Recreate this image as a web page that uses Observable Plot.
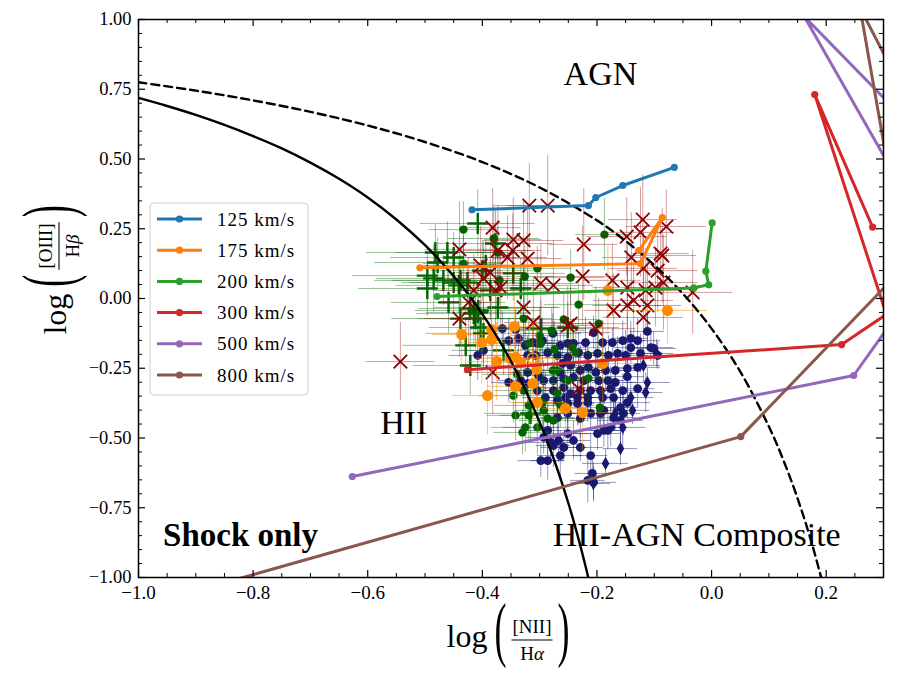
<!DOCTYPE html>
<html><head><meta charset="utf-8">
<script src="https://cdn.jsdelivr.net/npm/d3@7"></script>
<script src="https://cdn.jsdelivr.net/npm/@observablehq/plot@0.6"></script>
<style>body{margin:0;background:#fff}</style>
</head><body><div id="chart"></div>
<script>
const FONT = "'Liberation Serif', 'DejaVu Serif', serif";

// ---- tick values ----
const xMajor = [-1.0, -0.8, -0.6, -0.4, -0.2, 0.0, 0.2];
const xMinor = [-0.95,-0.9,-0.85,-0.75,-0.7,-0.65,-0.55,-0.5,-0.45,-0.35,-0.3,-0.25,-0.15,-0.1,-0.05,0.05,0.1,0.15,0.25];
const yMajor = [-1, -0.75, -0.5, -0.25, 0, 0.25, 0.5, 0.75, 1];
const yMinor = [0.95,0.9,0.85,0.8,0.7,0.65,0.6,0.55,0.45,0.4,0.35,0.3,0.2,0.15,0.1,0.05,
  -0.05,-0.1,-0.15,-0.2,-0.3,-0.35,-0.4,-0.45,-0.55,-0.6,-0.65,-0.7,-0.8,-0.85,-0.9,-0.95];

// ---- demarcation curves ----
const kauffmann = [[-1.0,0.719],[-0.95,0.690],[-0.9,0.658],[-0.85,0.622],[-0.8,0.582],[-0.75,0.538],[-0.7,0.487],[-0.65,0.429],[-0.6,0.362],[-0.55,0.283],[-0.5,0.191],[-0.475,0.138],[-0.45,0.080],[-0.425,0.016],[-0.4,-0.056],[-0.375,-0.135],[-0.35,-0.225],[-0.325,-0.327],[-0.3,-0.443],[-0.275,-0.577],[-0.25,-0.733],[-0.235,-0.840],[-0.22,-0.959],[-0.21,-1.046]];
const kewley = [[-1.0,0.775],[-0.9,0.745],[-0.8,0.710],[-0.7,0.669],[-0.6,0.620],[-0.5,0.561],[-0.4,0.489],[-0.3,0.398],[-0.2,0.280],[-0.15,0.206],[-0.1,0.120],[-0.05,0.017],[0.0,-0.108],[0.05,-0.262],[0.1,-0.459],[0.125,-0.578],[0.15,-0.716],[0.175,-0.878],[0.2,-1.069]];

// ---- shock model grids ----
const shockNames = ["125 km/s","175 km/s","200 km/s","300 km/s","500 km/s","800 km/s"];
const shockColors = ["#1f77b4","#ff7f0e","#2ca02c","#d62728","#9467bd","#8c564b"];
const shock125 = [[-0.418,0.318],[-0.215,0.333],[-0.202,0.362],[-0.155,0.405],[-0.065,0.470]];
const shock175 = [[-0.509,0.110],[-0.124,0.125],[-0.086,0.290],[-0.127,0.172]];
const shock200 = [[-0.479,0.007],[-0.031,0.038],[-0.005,0.049],[-0.010,0.098],[0.001,0.271]];
const shock300 = [[-0.426,-0.255],[0.227,-0.165],[0.305,-0.057],[0.180,0.731],[0.281,0.256]];
const shock500 = [[-0.627,-0.638],[0.248,-0.276],[0.35,0.018],[0.35,0.333],[0.162,1.01],[0.35,0.615]];
const shock800 = [[-0.9,-1.048],[0.051,-0.495],[0.35,0.143],[0.35,-0.025],[0.259,1.042],[0.35,0.68]];
const shockSeries = [shock125, shock175, shock200, shock300, shock500, shock800];

// ---- observed points: [x, y, xerr, yerr] ----
const navyCircles = [
[-0.408,-0.204,0.05,0.09],[-0.398,-0.186,0.04,0.07],[-0.365,-0.108,0.03,0.06],[-0.354,-0.151,0.04,0.08],[-0.342,-0.111,0.03,0.07],
[-0.337,-0.143,0.05,0.06],[-0.325,-0.168,0.03,0.09],[-0.312,-0.158,0.04,0.07],[-0.304,-0.161,0.03,0.05],[-0.295,-0.151,0.04,0.08],
[-0.286,-0.194,0.03,0.06],[-0.277,-0.125,0.05,0.07],[-0.264,-0.168,0.03,0.08],[-0.251,-0.161,0.04,0.06],[-0.241,-0.161,0.03,0.07],
[-0.220,-0.158,0.04,0.09],[-0.206,-0.122,0.03,0.06],[-0.190,-0.158,0.05,0.08],[-0.173,-0.158,0.03,0.05],[-0.155,-0.151,0.04,0.07],
[-0.141,-0.143,0.03,0.06],[-0.129,-0.151,0.04,0.08],[-0.112,-0.118,0.03,0.07],[-0.101,-0.179,0.04,0.06],[-0.094,-0.204,0.03,0.05],
[-0.124,-0.197,0.04,0.07],[-0.141,-0.176,0.03,0.06],[-0.150,-0.204,0.04,0.09],[-0.164,-0.197,0.03,0.06],[-0.180,-0.204,0.04,0.07],
[-0.199,-0.197,0.03,0.08],[-0.216,-0.204,0.05,0.06],[-0.232,-0.194,0.03,0.07],[-0.251,-0.211,0.04,0.05],[-0.269,-0.204,0.03,0.08],
[-0.260,-0.233,0.04,0.06],[-0.246,-0.240,0.03,0.07],[-0.229,-0.258,0.04,0.09],[-0.215,-0.247,0.03,0.06],[-0.202,-0.265,0.04,0.07],
[-0.185,-0.258,0.03,0.08],[-0.168,-0.258,0.04,0.06],[-0.147,-0.251,0.03,0.07],[-0.129,-0.247,0.04,0.05],[-0.147,-0.280,0.03,0.08],
[-0.197,-0.294,0.04,0.06],[-0.181,-0.294,0.03,0.07],[-0.168,-0.301,0.04,0.09],[-0.223,-0.294,0.03,0.06],[-0.241,-0.283,0.04,0.07],
[-0.258,-0.287,0.03,0.08],[-0.276,-0.294,0.04,0.06],[-0.211,-0.330,0.03,0.07],[-0.194,-0.330,0.04,0.05],[-0.176,-0.323,0.03,0.08],
[-0.155,-0.330,0.04,0.06],[-0.129,-0.323,0.03,0.07],[-0.255,-0.355,0.04,0.09],[-0.234,-0.355,0.03,0.06],[-0.216,-0.355,0.04,0.07],
[-0.190,-0.355,0.03,0.08],[-0.171,-0.355,0.04,0.06],[-0.354,-0.301,0.03,0.07],[-0.333,-0.294,0.04,0.05],[-0.321,-0.305,0.03,0.08],
[-0.302,-0.276,0.04,0.06],[-0.293,-0.294,0.03,0.07],[-0.264,-0.265,0.04,0.09],[-0.276,-0.330,0.03,0.06],[-0.258,-0.319,0.04,0.07],
[-0.246,-0.341,0.03,0.08],[-0.229,-0.330,0.04,0.06],[-0.321,-0.204,0.03,0.07],[-0.307,-0.204,0.04,0.05],[-0.321,-0.265,0.03,0.08],
[-0.304,-0.258,0.04,0.06],[-0.304,-0.330,0.03,0.07],[-0.290,-0.355,0.04,0.09],[-0.269,-0.366,0.03,0.06],[-0.251,-0.376,0.04,0.07],
[-0.234,-0.376,0.03,0.08],[-0.211,-0.412,0.04,0.06],[-0.188,-0.401,0.03,0.07],[-0.171,-0.427,0.04,0.05],[-0.154,-0.412,0.03,0.08],
[-0.251,-0.412,0.04,0.06],[-0.269,-0.427,0.03,0.07],[-0.286,-0.473,0.04,0.09],[-0.293,-0.498,0.03,0.06],[-0.281,-0.516,0.04,0.07],
[-0.267,-0.509,0.03,0.08],[-0.251,-0.484,0.04,0.06],[-0.241,-0.509,0.03,0.07],[-0.229,-0.534,0.04,0.05],[-0.211,-0.563,0.03,0.08],
[-0.298,-0.581,0.04,0.06],[-0.286,-0.581,0.03,0.07],[-0.264,-0.563,0.04,0.09],[-0.208,-0.627,0.03,0.06],[-0.206,-0.659,0.04,0.07],
[-0.216,-0.652,0.03,0.08],[-0.188,-0.473,0.04,0.06],[-0.176,-0.462,0.03,0.07],[-0.258,-0.534,0.04,0.05],[-0.276,-0.527,0.03,0.08],
[-0.199,-0.484,0.04,0.06],[-0.181,-0.473,0.03,0.07],[-0.159,-0.437,0.04,0.09],[-0.194,-0.412,0.03,0.06],[-0.229,-0.430,0.04,0.07],
[-0.159,-0.391,0.03,0.08],[-0.147,-0.373,0.04,0.06],[-0.216,-0.373,0.03,0.07],[-0.106,-0.176,0.04,0.05]];
const navyDiamonds = [[-0.119,-0.240,0.03,0.06],[-0.112,-0.301,0.04,0.05],[-0.115,-0.337,0.03,0.07],[-0.141,-0.355,0.04,0.06],
[-0.138,-0.401,0.03,0.05],[-0.168,-0.412,0.03,0.06],[-0.155,-0.462,0.04,0.07],[-0.159,-0.538,0.03,0.06],[-0.185,-0.591,0.04,0.05],
[-0.206,-0.663,0.03,0.06],[-0.096,-0.197,0.03,0.05]];
const greenCircles = [[-0.433,0.247,0.06,0.10],[-0.380,0.215,0.08,0.12],[-0.373,0.165,0.05,0.09],[-0.433,0.125,0.07,0.10],[-0.304,0.108,0.06,0.08],
[-0.326,0.079,0.05,0.11],[-0.370,0.065,0.07,0.09],[-0.246,0.075,0.06,0.10],[-0.187,0.229,0.05,0.13],[-0.232,-0.022,0.06,0.09],
[-0.328,-0.072,0.05,0.08],[-0.258,-0.075,0.06,0.10],[-0.197,-0.090,0.05,0.09],[-0.279,-0.115,0.06,0.08],[-0.300,-0.133,0.05,0.10],
[-0.319,-0.161,0.06,0.09],[-0.298,-0.161,0.05,0.08],[-0.274,-0.183,0.06,0.10],[-0.277,-0.258,0.05,0.09],[-0.243,-0.176,0.06,0.08],
[-0.215,-0.287,0.05,0.10],[-0.339,-0.272,0.06,0.09],[-0.328,-0.330,0.05,0.08],[-0.346,-0.348,0.06,0.10],[-0.342,-0.419,0.05,0.09],
[-0.319,-0.383,0.06,0.08],[-0.295,-0.373,0.05,0.10],[-0.325,-0.462,0.06,0.09],[-0.330,-0.480,0.05,0.08],[-0.304,-0.462,0.06,0.10],
[-0.286,-0.430,0.05,0.09],[-0.276,-0.437,0.06,0.08],[-0.293,-0.401,0.05,0.10],[-0.195,-0.391,0.06,0.09],[-0.251,-0.294,0.05,0.08],
[-0.269,-0.340,0.06,0.10],[-0.319,-0.419,0.05,0.09],[-0.264,-0.383,0.06,0.08],[-0.237,-0.194,0.05,0.10],[-0.270,-0.258,0.06,0.09]];
const greenPlus = [[-0.408,0.269,0.10,0.12],[-0.482,0.165,0.12,0.10],[-0.461,0.165,0.09,0.11],[-0.450,0.147,0.11,0.09],[-0.496,0.082,0.13,0.10],
[-0.485,0.072,0.10,0.12],[-0.468,0.065,0.12,0.09],[-0.450,0.057,0.09,0.11],[-0.441,0.047,0.11,0.10],[-0.426,0.057,0.10,0.08],
[-0.496,0.036,0.12,0.10],[-0.400,0.100,0.09,0.11],[-0.394,0.118,0.11,0.09],[-0.377,0.197,0.10,0.12],[-0.346,0.090,0.09,0.10],
[-0.438,0.065,0.12,0.09],[-0.459,-0.014,0.10,0.11],[-0.408,-0.050,0.09,0.10],[-0.373,-0.032,0.11,0.09],[-0.333,0.036,0.10,0.11],
[-0.298,-0.108,0.08,0.10],[-0.251,-0.104,0.09,0.09],[-0.415,-0.054,0.10,0.12],[-0.421,-0.036,0.09,0.10],[-0.407,-0.043,0.11,0.09],
[-0.412,-0.072,0.10,0.11],[-0.438,-0.072,0.12,0.10],[-0.403,-0.104,0.09,0.09],[-0.398,-0.125,0.10,0.11],[-0.429,-0.168,0.11,0.10],
[-0.363,-0.186,0.09,0.09],[-0.421,-0.240,0.10,0.11],[-0.316,-0.412,0.08,0.10],[-0.478,0.129,0.11,0.09],[-0.386,0.029,0.10,0.11]];
const redCross = [[-0.318,0.333,0.06,0.15],[-0.286,0.333,0.07,0.18],[-0.382,0.254,0.05,0.14],[-0.120,0.283,0.06,0.16],[-0.079,0.258,0.07,0.13],
[-0.440,0.176,0.06,0.17],[-0.346,0.211,0.05,0.15],[-0.328,0.208,0.07,0.14],[-0.373,0.172,0.06,0.16],[-0.347,0.172,0.05,0.13],
[-0.321,0.143,0.06,0.18],[-0.356,0.147,0.07,0.15],[-0.223,0.194,0.06,0.20],[-0.148,0.222,0.07,0.14],[-0.140,0.147,0.05,0.16],
[-0.119,0.108,0.06,0.13],[-0.094,0.100,0.07,0.15],[-0.086,0.154,0.06,0.17],[-0.403,0.118,0.05,0.14],[-0.386,0.093,0.06,0.16],
[-0.398,0.072,0.07,0.13],[-0.368,0.039,0.06,0.15],[-0.377,0.029,0.05,0.17],[-0.298,0.054,0.06,0.14],[-0.276,0.047,0.07,0.16],
[-0.225,0.079,0.06,0.18],[-0.173,0.065,0.05,0.13],[-0.147,0.039,0.06,0.15],[-0.136,-0.007,0.07,0.14],[-0.112,-0.025,0.06,0.16],
[-0.171,-0.043,0.05,0.13],[-0.147,-0.025,0.06,0.15],[-0.119,-0.068,0.07,0.17],[-0.328,-0.032,0.06,0.14],[-0.311,-0.086,0.05,0.16],
[-0.246,-0.090,0.06,0.13],[-0.202,-0.108,0.07,0.15],[-0.440,-0.072,0.06,0.14],[-0.424,-0.014,0.05,0.16],[-0.415,0.029,0.06,0.13],
[-0.033,0.022,0.07,0.15],[-0.084,0.057,0.06,0.17],[-0.098,0.039,0.05,0.14],[-0.124,0.237,0.06,0.16],[-0.543,-0.226,0.06,0.14],
[-0.382,-0.265,0.05,0.15],[-0.232,-0.323,0.06,0.13],[-0.251,-0.097,0.05,0.14],[-0.115,0.029,0.06,0.15],[-0.089,0.161,0.05,0.13]];
const orangeCircles = [[-0.436,-0.129,0.05,0.12],[-0.401,-0.158,0.04,0.15],[-0.384,-0.111,0.06,0.13],[-0.384,-0.147,0.05,0.16],
[-0.344,-0.100,0.04,0.12],[-0.375,-0.226,0.05,0.14],[-0.351,-0.215,0.06,0.13],[-0.342,-0.211,0.05,0.15],[-0.333,-0.229,0.04,0.12],
[-0.305,-0.254,0.05,0.14],[-0.312,-0.305,0.06,0.13],[-0.342,-0.315,0.05,0.15],[-0.391,-0.348,0.06,0.14],[-0.304,-0.373,0.05,0.12],
[-0.255,-0.394,0.04,0.13],[-0.225,-0.409,0.05,0.14],[-0.190,-0.233,0.06,0.15],[-0.077,-0.043,0.07,0.12],[-0.181,0.029,0.05,0.16]];
const orangeOpen = [[-0.312,-0.215,0.05,0.13]];

const annotations = [
  {t: "AGN", x: -0.194, y: 0.806},
  {t: "HII", x: -0.537, y: -0.448},
  {t: "HII-AGN Composite", x: -0.026, y: -0.849}
];
const boldNotes = [{t: "Shock only", x: -0.822, y: -0.849}];

const NAVY = "#191970", GREEN = "#006400", DRED = "#8B0000", ORANGE = "#FF8C00";

function errBars(data, color, op) {
  return [
    Plot.ruleX(data, {x: d => d[0], y1: d => d[1] - d[3], y2: d => d[1] + d[3], stroke: color, strokeOpacity: op, strokeWidth: 1, clip: true}),
    Plot.ruleY(data, {y: d => d[1], x1: d => d[0] - d[2], x2: d => d[0] + d[2], stroke: color, strokeOpacity: op, strokeWidth: 1, clip: true})
  ];
}

const shockTable = shockSeries.flatMap((pts, i) => pts.map(p => ({x: p[0], y: p[1], s: shockNames[i]})));

const W = 899, H = 682, mL = 138, mR = 16, mT = 19, mB = 105;
const plotH = H - mT - mB, plotW = W - mL - mR;
const fmt = (d, n) => (d < 0 ? "\u2212" : "") + Math.abs(d).toFixed(n);

const svg = Plot.plot({
  width: W, height: H,
  marginLeft: mL, marginRight: mR, marginTop: mT, marginBottom: mB,
  x: {domain: [-1, 0.3]},
  y: {domain: [-1, 1]},
  color: {domain: shockNames, range: shockColors},
  style: {fontFamily: FONT, fontSize: "19px", background: "white", color: "black"},
  marks: [
    ...errBars(navyCircles, NAVY, 0.45),
    Plot.dot(navyCircles, {x: d => d[0], y: d => d[1], r: 4.4, fill: NAVY, clip: true}),
    ...errBars(navyDiamonds, NAVY, 0.45),
    Plot.dot(navyDiamonds, {x: d => d[0], y: d => d[1], r: 4, symbol: "diamond", fill: NAVY, clip: true}),
    ...errBars(greenCircles, GREEN, 0.4),
    Plot.dot(greenCircles, {x: d => d[0], y: d => d[1], r: 4.2, fill: GREEN, clip: true}),
    ...errBars(greenPlus, GREEN, 0.4),
    Plot.dot(greenPlus, {x: d => d[0], y: d => d[1], r: 6.8, symbol: "plus", stroke: GREEN, fill: "none", strokeWidth: 2.4, clip: true}),
    ...errBars(redCross, DRED, 0.38),
    Plot.dot(redCross, {x: d => d[0], y: d => d[1], r: 6.2, symbol: "times", stroke: DRED, fill: "none", strokeWidth: 1.8, clip: true}),
    ...errBars(orangeCircles, ORANGE, 0.5),
    Plot.dot(orangeCircles, {x: d => d[0], y: d => d[1], r: 5.5, fill: ORANGE, clip: true}),
    ...errBars(orangeOpen, ORANGE, 0.5),
    Plot.dot(orangeOpen, {x: d => d[0], y: d => d[1], r: 5.5, fill: "none", stroke: ORANGE, strokeWidth: 1.5, clip: true}),
    Plot.line(kauffmann, {x: d => d[0], y: d => d[1], stroke: "black", strokeWidth: 2.4, curve: "catmull-rom", clip: true}),
    Plot.line(kewley, {x: d => d[0], y: d => d[1], stroke: "black", strokeWidth: 2.4, strokeDasharray: "8,5", curve: "catmull-rom", clip: true}),
    Plot.line(shockTable, {x: "x", y: "y", z: "s", stroke: "s", strokeWidth: 3, clip: true}),
    Plot.dot(shockTable, {x: "x", y: "y", fill: "s", r: 3.6, clip: true}),
    Plot.text(annotations, {x: "x", y: "y", text: "t", fontSize: 34, fill: "black", textAnchor: "middle", lineAnchor: "middle"}),
    Plot.text(boldNotes, {x: "x", y: "y", text: "t", fontSize: 33, fontWeight: "bold", fill: "black", textAnchor: "middle", lineAnchor: "middle"}),
    // inward ticks on all four sides
    Plot.tickX(xMajor, {x: d => d, insetTop: plotH - 7, stroke: "black", strokeWidth: 1.2}),
    Plot.tickX(xMajor, {x: d => d, insetBottom: plotH - 7, stroke: "black", strokeWidth: 1.2}),
    Plot.tickX(xMinor, {x: d => d, insetTop: plotH - 4, stroke: "black", strokeWidth: 1}),
    Plot.tickX(xMinor, {x: d => d, insetBottom: plotH - 4, stroke: "black", strokeWidth: 1}),
    Plot.tickY(yMajor, {y: d => d, insetRight: plotW - 7, stroke: "black", strokeWidth: 1.2}),
    Plot.tickY(yMajor, {y: d => d, insetLeft: plotW - 7, stroke: "black", strokeWidth: 1.2}),
    Plot.tickY(yMinor, {y: d => d, insetRight: plotW - 4, stroke: "black", strokeWidth: 1}),
    Plot.tickY(yMinor, {y: d => d, insetLeft: plotW - 4, stroke: "black", strokeWidth: 1}),
    Plot.frame({stroke: "black", strokeWidth: 1.5}),
    Plot.axisX(xMajor, {anchor: "bottom", tickSize: 0, tickPadding: 8, tickFormat: d => fmt(d, 1), fontSize: 19, label: null}),
    Plot.axisY(yMajor, {anchor: "left", tickSize: 0, tickPadding: 7, tickFormat: d => fmt(d, 2), fontSize: 18.5, label: null})
  ]
});
document.getElementById("chart").appendChild(svg);

const s = d3.select(svg);

// ---- legend ----
const lg = s.append("g").attr("font-family", FONT).attr("text-anchor", "start");
lg.append("rect").attr("x", 150).attr("y", 203).attr("width", 158).attr("height", 192).attr("rx", 4)
  .attr("fill", "white").attr("fill-opacity", 0.85).attr("stroke", "#cccccc").attr("stroke-width", 1);
shockNames.forEach((name, i) => {
  const yy = 219 + i * 31.2;
  lg.append("line").attr("x1", 157).attr("x2", 202).attr("y1", yy).attr("y2", yy)
    .attr("stroke", shockColors[i]).attr("stroke-width", 3);
  lg.append("circle").attr("cx", 179.5).attr("cy", yy).attr("r", 3.6).attr("fill", shockColors[i]);
  lg.append("text").attr("x", 217).attr("y", yy + 6.5).attr("font-size", 19).attr("letter-spacing", 1)
    .attr("text-anchor", "start").attr("fill", "black").text(name);
});

// ---- math-style axis labels ----
function mathLabel(g, num, denLatin, denGreek) {
  g.attr("font-family", FONT).attr("fill", "black").attr("text-anchor", "middle");
  const n = g.append("text").attr("x", 0).attr("y", -7).attr("font-size", 19).text(num);
  const d = g.append("text").attr("x", 0).attr("y", 20).attr("font-size", 19);
  d.append("tspan").text(denLatin);
  d.append("tspan").attr("font-style", "italic").text(denGreek);
  const half = Math.max(n.node().getComputedTextLength(), d.node().getComputedTextLength()) / 2 + 1;
  g.append("line").attr("x1", -half).attr("x2", half).attr("y1", 0).attr("y2", 0).attr("stroke", "black").attr("stroke-width", 1.1);
  const pl = -half - 11, pr = half + 11;
  g.append("text").attr("transform", `translate(${pl},13) scale(0.5,1)`).attr("font-size", 72).text("(");
  g.append("text").attr("transform", `translate(${pr},13) scale(0.5,1)`).attr("font-size", 72).text(")");
  g.append("text").attr("x", pl - 13).attr("y", 7).attr("text-anchor", "end").attr("font-size", 32).text("log");
}
mathLabel(s.append("g").attr("transform", "translate(532,640)"), "[NII]", "H", "\u03b1");
mathLabel(s.append("g").attr("transform", "translate(59,246) rotate(-90)"), "[OIII]", "H", "\u03b2");
</script>
</body></html>
